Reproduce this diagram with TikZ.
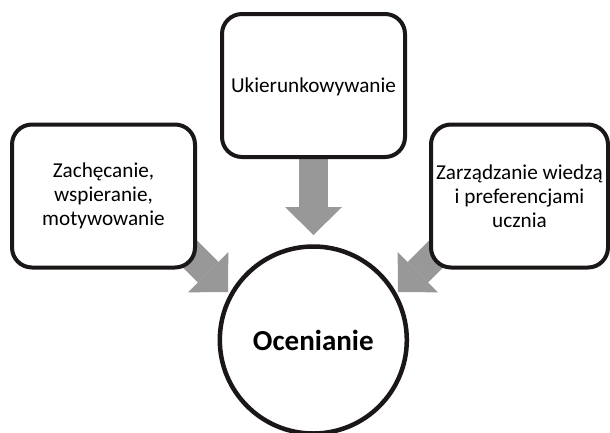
\documentclass[tikz,border=0pt]{standalone}
\usepackage{fontspec}
\setmainfont{Carlito}
\usetikzlibrary{arrows.meta}
\definecolor{arrowgray}{RGB}{152,152,152}
\definecolor{linedark}{RGB}{26,23,22}
\tikzset{
  box/.style={draw=linedark, line width=4pt, rounded corners=20pt, fill=white,
    minimum width=183pt, minimum height=143pt, align=center, inner sep=0pt,
    font=\fontsize{21.2pt}{24pt}\selectfont},
  bigarrow/.style={draw=arrowgray, line width=29pt,
    -{Triangle[width=57pt,length=28pt,line width=0pt,fill=arrowgray]}},
  hub/.style={circle, draw=linedark, line width=4.5pt, fill=white,
    minimum size=187pt, inner sep=0pt, font=\fontsize{29pt}{33pt}\selectfont\bfseries}
}
\begin{document}
\begin{tikzpicture}[x=1pt,y=-1pt]
\useasboundingbox (0,0) rectangle (610,432);
\clip (0,0) rectangle (610,432);
% arrows (behind the boxes)
\coordinate (ts) at (313.5,150);
\coordinate (tt) at (313.5,235);
\coordinate (ls) at (160,224);
\coordinate (lt) at (228,292);
\coordinate (rs) at (466,224);
\coordinate (rt) at (398,292);
\draw[bigarrow] (ts) -- (tt);
\draw[bigarrow] (ls) -- (lt);
\draw[bigarrow] (rs) -- (rt);
% boxes
\node[box] (left) at (103.5,196) {Zachęcanie,\\wspieranie,\\motywowanie};
\node[box, text depth=0pt] (top) at (313.5,85.5) {Ukierunkowywanie};
\node[box, minimum width=177pt] (right) at (519.5,196) {Zarządzanie wiedzą\\i preferencjami\\ucznia};
% hub
\node[hub] (hub) at (313.3,340) {Ocenianie};
\end{tikzpicture}
\end{document}
